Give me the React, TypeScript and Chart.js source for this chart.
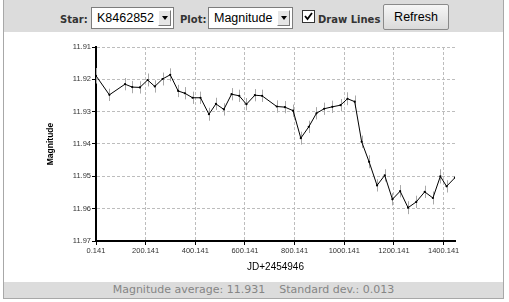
import React, { useEffect, useRef } from 'react';
import { Chart, registerables } from 'chart.js';

Chart.register(...registerables);

// ---- data ----
const jdOffsets = [
  0.141, 54, 117, 146, 177, 208, 237, 268, 299, 331, 358, 389, 421, 455, 483,
  515, 546, 577, 606, 640, 669, 728, 761, 794, 825, 857, 888, 919, 952, 985,
  1013, 1042, 1070, 1100, 1132, 1163, 1194, 1225, 1257, 1290, 1324, 1357, 1387,
  1412, 1446,
];
const magnitudes = [
  11.9189, 11.9248, 11.9215, 11.9224, 11.9225, 11.9202, 11.9222, 11.9199,
  11.9186, 11.9236, 11.9243, 11.9257, 11.9257, 11.9308, 11.9276, 11.9293,
  11.9246, 11.9251, 11.9277, 11.9249, 11.9251, 11.9284, 11.9286, 11.9297,
  11.9382, 11.9347, 11.9305, 11.9291, 11.9285, 11.928, 11.926, 11.9269,
  11.9393, 11.9455, 11.9528, 11.9497, 11.9571, 11.9546, 11.9597, 11.9579,
  11.9548, 11.9567, 11.95, 11.9531, 11.9504,
];
const magErrors = [
  0.0024, 0.0019, 0.0019, 0.0019, 0.0019, 0.002, 0.0019, 0.002, 0.002, 0.0019,
  0.0019, 0.0019, 0.0019, 0.002, 0.0019, 0.0019, 0.0019, 0.0019, 0.0019,
  0.0019, 0.0019, 0.0019, 0.0019, 0.0019, 0.002, 0.0019, 0.0019, 0.0019,
  0.0019, 0.0019, 0.002, 0.0019, 0.0019, 0.002, 0.0019, 0.0019, 0.0019,
  0.0019, 0.002, 0.0019, 0.0019, 0.002, 0.0022, 0.0019, 0.0022,
];
const xTickValues = [0.141, 200.141, 400.141, 600.141, 800.141, 1000.141, 1200.141, 1400.141];
const yTickValues = [11.91, 11.92, 11.93, 11.94, 11.95, 11.96, 11.97];

const errorBarPlugin = {
  id: 'errorBars',
  beforeDatasetsDraw(chart: any) {
    const { ctx, chartArea, scales } = chart;
    const xs = scales.x;
    const ys = scales.y;
    ctx.save();
    ctx.beginPath();
    ctx.rect(chartArea.left, chartArea.top, chartArea.right - chartArea.left, chartArea.bottom - chartArea.top);
    ctx.clip();
    ctx.strokeStyle = '#a9a9a9';
    ctx.lineWidth = 1;
    ctx.beginPath();
    for (let i = 0; i < jdOffsets.length; i++) {
      const px = Math.round(xs.getPixelForValue(jdOffsets[i])) + 0.5;
      const y1 = ys.getPixelForValue(magnitudes[i] - magErrors[i]);
      const y2 = ys.getPixelForValue(magnitudes[i] + magErrors[i]);
      ctx.moveTo(px, y1);
      ctx.lineTo(px, y2);
    }
    ctx.stroke();
    ctx.restore();
  },
};

function LightCurve() {
  const ref = useRef<HTMLCanvasElement | null>(null);
  useEffect(() => {
    if (!ref.current) return;
    const chart = new Chart(ref.current, {
      type: 'line',
      data: {
        datasets: [
          {
            data: jdOffsets.map((x, i) => ({ x, y: magnitudes[i] })),
            borderColor: '#000',
            backgroundColor: '#000',
            borderWidth: 1,
            pointRadius: 1.1,
            pointBorderWidth: 0,
            pointBackgroundColor: '#000',
            tension: 0,
            fill: false,
          },
        ],
      },
      options: {
        responsive: false,
        animation: false,
        events: [],
        layout: { padding: { left: 0, right: 54, top: 15, bottom: 0 } },
        plugins: { legend: { display: false }, tooltip: { enabled: false } },
        scales: {
          x: {
            type: 'linear',
            min: jdOffsets[0],
            max: jdOffsets[jdOffsets.length - 1],
            afterBuildTicks: (s: any) => {
              s.ticks = xTickValues.map((v) => ({ value: v }));
            },
            afterFit: (s: any) => {
              s.height = 41;
            },
            ticks: {
              autoSkip: false,
              maxRotation: 0,
              padding: 1,
              color: '#333',
              font: { family: 'Liberation Sans', size: 7.5 },
              callback: (v: any) => Number(v).toFixed(3),
            },
            grid: {
              color: '#bdbdbd',
              lineWidth: 1,
              drawTicks: true,
              tickLength: 4,
              tickColor: '#000',
              tickWidth: 1,
              tickBorderDash: [],
            },
            border: { display: true, color: '#000', width: 2, dash: [3, 2] },
            title: {
              display: true,
              text: 'JD+2454946',
              color: '#000',
              font: { family: 'Liberation Sans', size: 10 },
              padding: { top: 0, bottom: 9 },
            },
          },
          y: {
            type: 'linear',
            reverse: true,
            min: 11.91,
            max: 11.97,
            afterBuildTicks: (s: any) => {
              s.ticks = yTickValues.map((v) => ({ value: v }));
            },
            afterFit: (s: any) => {
              s.width = 96;
            },
            ticks: {
              padding: 1,
              color: '#333',
              font: { family: 'Liberation Sans', size: 7.5 },
              callback: (v: any) => Number(v).toFixed(2),
            },
            grid: {
              color: '#bdbdbd',
              lineWidth: 1,
              drawTicks: true,
              tickLength: 4,
              tickColor: '#000',
              tickWidth: 1,
              tickBorderDash: [],
            },
            border: { display: true, color: '#000', width: 2, dash: [3, 2] },
            title: {
              display: true,
              text: 'Magnitude',
              color: '#000',
              font: { family: 'Liberation Sans', size: 8.5, weight: 'bold' },
              padding: { top: 46, bottom: 0 },
            },
          },
        },
      },
      plugins: [errorBarPlugin],
    } as any);
    return () => chart.destroy();
  }, []);
  return (
    <canvas
      ref={ref}
      width={509}
      height={250}
      style={{ position: 'absolute', left: 0, top: 32, width: 509, height: 250 }}
    />
  );
}

const labelStyle: React.CSSProperties = {
  position: 'absolute',
  top: 13,
  fontFamily: 'DejaVu Sans',
  fontWeight: 'bold',
  fontSize: 10,
  lineHeight: '13px',
  color: '#333',
  whiteSpace: 'nowrap',
};

function Select({ left, width, text }: { left: number; width: number; text: string }) {
  return (
    <div
      style={{
        position: 'absolute',
        left,
        top: 7,
        width,
        height: 22,
        boxSizing: 'border-box',
        border: '1px solid #7d7d7d',
        background: '#fff',
      }}
    >
      <div
        style={{
          position: 'absolute',
          left: 5,
          top: 0,
          lineHeight: '20px',
          fontFamily: 'Liberation Sans',
          fontSize: 12.5,
          color: '#000',
          whiteSpace: 'nowrap',
        }}
      >
        {text}
      </div>
      <div
        style={{
          position: 'absolute',
          right: 2,
          top: 2,
          width: 13,
          height: 16,
          boxSizing: 'border-box',
          background: '#e6e6e6',
          borderTop: '1px solid #fff',
          borderLeft: '1px solid #fff',
          borderRight: '1px solid #7a7a7a',
          borderBottom: '1px solid #7a7a7a',
        }}
      >
        <div
          style={{
            position: 'absolute',
            left: 2.5,
            top: 5,
            width: 0,
            height: 0,
            borderLeft: '3.5px solid transparent',
            borderRight: '3.5px solid transparent',
            borderTop: '4px solid #000',
          }}
        />
      </div>
    </div>
  );
}

export default function App() {
  return (
    <div style={{ position: 'absolute', left: 0, top: 0, width: 509, height: 302, background: '#fff', overflow: 'hidden' }}>
      {/* frame */}
      <div
        style={{
          position: 'absolute',
          left: 3,
          top: 0,
          width: 501,
          height: 299,
          boxSizing: 'border-box',
          borderLeft: '1px solid #a8a8a8',
          borderRight: '1px solid #a8a8a8',
          borderBottom: '1px solid #a8a8a8',
          background: '#fff',
        }}
      />
      {/* header */}
      <div style={{ position: 'absolute', left: 4, top: 0, width: 499, height: 32, background: '#dcdcdc' }} />
      <div style={{ ...labelStyle, left: 60 }}>Star:</div>
      <Select left={91} width={83} text="K8462852" />
      <div style={{ ...labelStyle, left: 180 }}>Plot:</div>
      <Select left={208} width={85} text="Magnitude" />
      <div
        style={{
          position: 'absolute',
          left: 302,
          top: 10,
          width: 13,
          height: 13,
          boxSizing: 'border-box',
          border: '1px solid #333',
          background: '#fff',
        }}
      >
        <svg width={11} height={11} style={{ position: 'absolute', left: 0, top: 0 }}>
          <polyline points="2,5 4.5,8 9,2" fill="none" stroke="#000" strokeWidth={1.8} />
        </svg>
      </div>
      <div style={{ ...labelStyle, left: 318 }}>Draw Lines</div>
      <div
        style={{
          position: 'absolute',
          left: 383,
          top: 4,
          width: 66,
          height: 26,
          boxSizing: 'border-box',
          border: '1px solid #8a8a8a',
          borderRadius: 2,
          background: 'linear-gradient(#f6f6f6, #dadada)',
          fontFamily: 'Liberation Sans',
          fontSize: 12.5,
          lineHeight: '24px',
          textAlign: 'center',
          color: '#000',
        }}
      >
        Refresh
      </div>
      {/* chart */}
      <LightCurve />
      {/* footer */}
      <div
        style={{
          position: 'absolute',
          left: 4,
          top: 282,
          width: 499,
          height: 16,
          background: '#dcdcdc',
          fontFamily: 'DejaVu Sans',
          fontSize: 11,
          lineHeight: '16px',
          textAlign: 'center',
          color: '#858585',
          whiteSpace: 'pre',
        }}
      >
        {'Magnitude average: 11.931    Standard dev.: 0.013'}
      </div>
    </div>
  );
}
